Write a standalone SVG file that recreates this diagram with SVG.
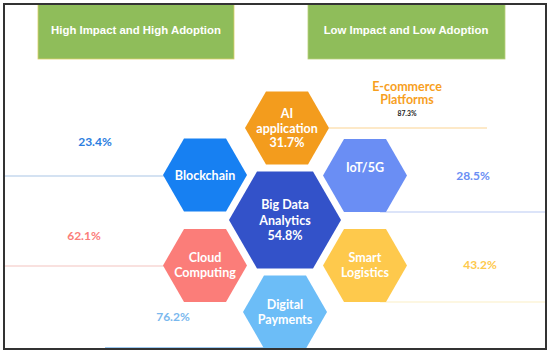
<svg xmlns="http://www.w3.org/2000/svg" xmlns:xlink="http://www.w3.org/1999/xlink" width="550" height="355" viewBox="0 0 550 355">
<style>
.hdr{font-family:"Liberation Sans",Arial,sans-serif;font-size:11.4px;font-weight:bold;fill:#ffffff;text-anchor:middle}
.hx{font-family:Lato,"Open Sans",sans-serif;font-size:12.5px;font-weight:bold;fill:#ffffff;text-anchor:middle}
.pct{font-family:Lato,"Open Sans",sans-serif;font-size:12px;font-weight:bold;text-anchor:middle}
.ln{stroke-width:1.2;fill:none}
</style>
<defs>
<polygon id="hs" points="-42,0 -21,-36.5 21,-36.5 42,0 21,36.5 -21,36.5"/>
<polygon id="hb" points="-56,0 -28,-48.5 28,-48.5 56,0 28,48.5 -28,48.5"/>
</defs>
<rect x="0" y="0" width="550" height="355" fill="#ffffff"/>
<g id="connectors">
<line class="ln" x1="5" y1="176" x2="165" y2="176" stroke="#a9c6e6"/>
<line class="ln" x1="5" y1="266" x2="165" y2="266" stroke="#f4c4c0"/>
<line class="ln" x1="329" y1="128" x2="487" y2="128" stroke="#fbd391"/>
<line class="ln" x1="380" y1="212" x2="545" y2="212" stroke="#b9c9f4"/>
<line class="ln" x1="380" y1="302" x2="545" y2="302" stroke="#fcefc6"/>
<line class="ln" x1="105" y1="347.5" x2="285" y2="347.5" stroke="#9cc8f0"/>
</g>
<g id="header-high">
<rect x="38" y="4" width="196" height="55" fill="#8fbd5a" stroke="#dccf6a" stroke-width="0.8"/>
<text class="hdr" x="136" y="34">High Impact and High Adoption</text>
</g>
<g id="header-low">
<rect x="308" y="4" width="197" height="55" fill="#8fbd5a" stroke="#b9cf7a" stroke-width="0.8"/>
<text class="hdr" x="406" y="34">Low Impact and Low Adoption</text>
</g>
<g id="ai">
<use href="#hs" x="287" y="128" fill="#f39c1d"/>
<text class="hx" x="287" y="118">AI</text>
<text class="hx" x="287" y="132.5">application</text>
<text class="hx" x="287" y="147">31.7%</text>
</g>
<g id="blockchain">
<use href="#hs" x="205" y="175" fill="#1780f2"/>
<text class="hx" x="205" y="180">Blockchain</text>
</g>
<g id="iot">
<use href="#hs" x="365" y="175.5" fill="#6a8ef4"/>
<text class="hx" x="365" y="172">IoT/5G</text>
</g>
<g id="bigdata">
<use href="#hb" x="285" y="220" fill="#3352c9"/>
<text class="hx" x="285" y="209">Big Data</text>
<text class="hx" x="285" y="224.5">Analytics</text>
<text class="hx" x="285" y="240">54.8%</text>
</g>
<g id="cloud">
<use href="#hs" x="205" y="265.5" fill="#fb7d79"/>
<text class="hx" x="205" y="262">Cloud</text>
<text class="hx" x="205" y="277">Computing</text>
</g>
<g id="smart">
<use href="#hs" x="365" y="265.5" fill="#fec94c"/>
<text class="hx" x="365" y="262">Smart</text>
<text class="hx" x="365" y="277">Logistics</text>
</g>
<g id="digital">
<use href="#hs" x="285" y="312" fill="#6cbdf7"/>
<text class="hx" x="285" y="309">Digital</text>
<text class="hx" x="285" y="324">Payments</text>
</g>
<g id="ecommerce">
<text class="pct" x="407" y="90.5" fill="#f7a01e" style="font-size:12.5px">E-commerce</text>
<text class="pct" x="407" y="104" fill="#f7a01e" style="font-size:12.5px">Platforms</text>
<text x="407" y="115.5" fill="#222222" style="font-family:Lato,'Open Sans',sans-serif;font-size:6.8px;font-weight:bold;text-anchor:middle">87.3%</text>
</g>
<g id="labels">
<text class="pct" x="95" y="146" fill="#2b7de0">23.4%</text>
<text class="pct" x="84" y="240" fill="#fb7d79">62.1%</text>
<text class="pct" x="473" y="180" fill="#6a8ef4">28.5%</text>
<text class="pct" x="480" y="269" fill="#fec94c">43.2%</text>
<text class="pct" x="173" y="321" fill="#7ab8ee">76.2%</text>
</g>
<rect x="4" y="4" width="542" height="345" fill="none" stroke="#333333" stroke-width="2"/>
</svg>
